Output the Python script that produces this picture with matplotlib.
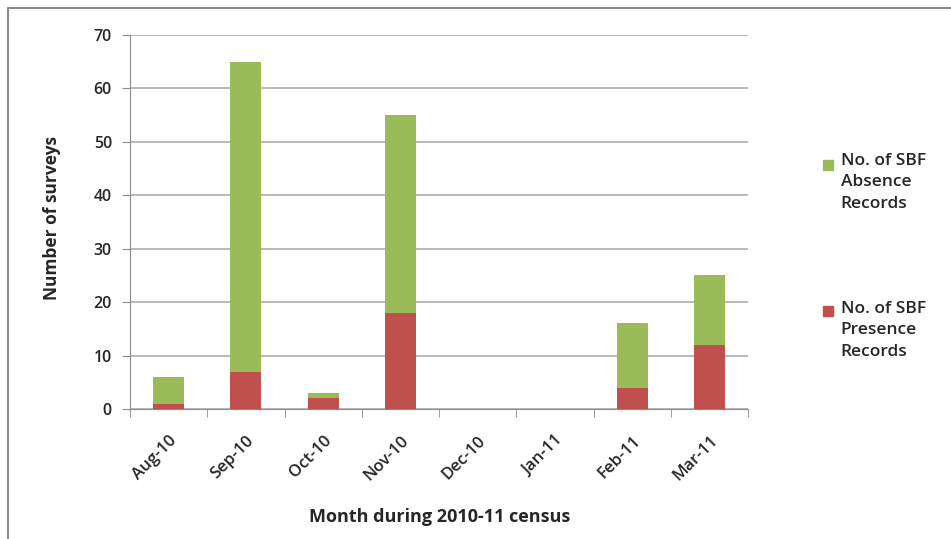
import matplotlib.pyplot as plt
from matplotlib.patches import Rectangle
import numpy as np

plt.rcParams['font.family'] = ['Open Sans', 'DejaVu Sans']

months = ['Aug-10', 'Sep-10', 'Oct-10', 'Nov-10', 'Dec-10', 'Jan-11', 'Feb-11', 'Mar-11']
presence = [1, 7, 2, 18, 0, 0, 4, 12]
absence = [5, 58, 1, 37, 0, 0, 12, 13]

green = '#9bbb59'
red = '#c0504d'
txt = '#262626'

fig = plt.figure(figsize=(9.51, 5.39), dpi=100)
ax = fig.add_axes([0.1367, 0.2412, 0.650, 0.694])

# outer chart frame
fig.add_artist(Rectangle((0.0084, -0.1), 1.2, 1.085, transform=fig.transFigure,
                         fill=False, edgecolor='#8c8c8c', linewidth=1.5))

x = np.arange(len(months))
ax.bar(x, presence, width=0.4, color=red, zorder=3)
ax.bar(x, absence, width=0.4, bottom=presence, color=green, zorder=3)

ax.set_xlim(-0.5, len(months) - 0.5)
ax.set_ylim(0, 70)
ax.set_yticks(range(0, 71, 10))
ax.yaxis.grid(True, color='#a6a6a6', linewidth=1.1, zorder=0)

ax.set_xticks(x)
ax.set_xticklabels(months, rotation=45, ha='right', rotation_mode='anchor',
                   fontweight='semibold')
ax.set_xticks(np.arange(-0.5, len(months), 1), minor=True)
ax.tick_params(axis='x', which='major', length=0, pad=17, labelsize=12, labelcolor=txt)
ax.tick_params(axis='x', which='minor', length=6, color='#8c8c8c', direction='out')
ax.tick_params(axis='y', length=6, color='#8c8c8c', labelsize=11.5, labelcolor=txt, pad=7)
for lab in ax.get_yticklabels():
    lab.set_fontweight('semibold')

for s in ['top', 'right']:
    ax.spines[s].set_visible(False)
for s in ['left', 'bottom']:
    ax.spines[s].set_color('#8c8c8c')

fig.text(0.055, 0.595, 'Number of surveys', fontsize=12.5, fontweight='bold',
         rotation=90, ha='center', va='center', color=txt)
fig.text(0.4625, 0.041, 'Month during 2010-11 census', fontsize=13,
         fontweight='bold', ha='center', va='center', color=txt)

# legend on the right
legend_items = [(green, 'No. of SBF\nAbsence\nRecords', 0.6846, 0.716),
                (red, 'No. of SBF\nPresence\nRecords', 0.4137, 0.442)]
for col, label, ybox, ytext in legend_items:
    fig.add_artist(Rectangle((0.8654, ybox), 0.0105, 0.0186,
                             transform=fig.transFigure, color=col))
    fig.text(0.884, ytext, label, fontsize=12.5, fontweight='semibold', va='top',
             ha='left', color=txt, linespacing=1.45)

fig.savefig('out.png', dpi=100)
